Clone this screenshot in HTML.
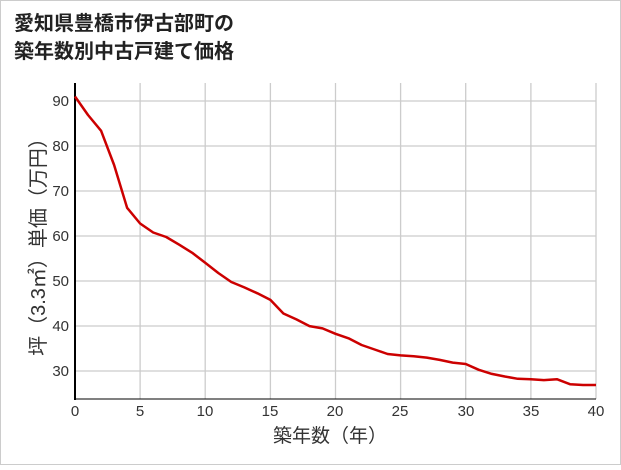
<!DOCTYPE html>
<html><head><meta charset="utf-8"><style>
body{margin:0;background:#fff;}
.f{font-family:"Liberation Sans","Noto Sans CJK JP",sans-serif;}
</style></head><body>
<svg width="621" height="465" xmlns="http://www.w3.org/2000/svg" class="f">
<rect x="0.5" y="0.5" width="620" height="464" fill="#fff" stroke="#ccc"/>
<text x="14" y="30" font-size="20" font-weight="bold" fill="#222" font-family="Liberation Sans,Noto Sans CJK JP,sans-serif">愛知県豊橋市伊古部町の</text>
<text x="14" y="58" font-size="20" font-weight="bold" fill="#222" font-family="Liberation Sans,Noto Sans CJK JP,sans-serif">築年数別中古戸建て価格</text>
<g stroke="#ccc" stroke-width="1.3">
<line x1="140.1" y1="83" x2="140.1" y2="399"/><line x1="205.2" y1="83" x2="205.2" y2="399"/>
<line x1="270.4" y1="83" x2="270.4" y2="399"/><line x1="335.5" y1="83" x2="335.5" y2="399"/>
<line x1="400.6" y1="83" x2="400.6" y2="399"/><line x1="465.7" y1="83" x2="465.7" y2="399"/>
<line x1="530.9" y1="83" x2="530.9" y2="399"/><line x1="596" y1="83" x2="596" y2="399"/>
<line x1="75" y1="101" x2="596" y2="101"/><line x1="75" y1="146" x2="596" y2="146"/>
<line x1="75" y1="191" x2="596" y2="191"/><line x1="75" y1="236" x2="596" y2="236"/>
<line x1="75" y1="281" x2="596" y2="281"/><line x1="75" y1="326" x2="596" y2="326"/>
<line x1="75" y1="371" x2="596" y2="371"/>
</g>
<line x1="75" y1="83" x2="75" y2="400" stroke="#000" stroke-width="2"/>
<line x1="74" y1="399" x2="596" y2="399" stroke="#000" stroke-width="1"/>
<g font-size="15" fill="#333" text-anchor="end">
<text x="69" y="106">90</text><text x="69" y="151">80</text><text x="69" y="196">70</text>
<text x="69" y="241">60</text><text x="69" y="286">50</text><text x="69" y="331">40</text>
<text x="69" y="376">30</text>
</g>
<g font-size="15" fill="#333" text-anchor="middle">
<text x="75" y="416">0</text><text x="140" y="416">5</text><text x="205" y="416">10</text>
<text x="270" y="416">15</text><text x="335" y="416">20</text><text x="400" y="416">25</text>
<text x="466" y="416">30</text><text x="531" y="416">35</text><text x="596" y="416">40</text>
</g>
<text x="330" y="442" font-size="19" fill="#333" text-anchor="middle">築年数（年）</text>
<text transform="translate(45,242) rotate(-90)" font-size="20" fill="#333" text-anchor="middle">坪（3.3㎡）単価（万円）</text>
<polyline fill="none" stroke="#cc0000" stroke-width="2.5" stroke-linejoin="round" points="
75,96.5 88,115 101.1,130.8 114.1,165 127.1,207.8 140.1,223.5 153.2,232.5 166.2,237 179.2,244.7 192.2,252.8 205.2,262.7 218.3,273 231.3,282 244.3,287.4 257.4,293.3 270.4,299.9 283.4,313.5 296.4,319.4 309.5,326.1 322.5,328.4 335.5,333.8 348.5,338.3 361.6,345 374.6,349.5 387.6,354 400.6,355.4 413.7,356.3 426.7,357.6 439.7,359.9 452.7,362.6 465.7,364 478.8,369.8 491.8,373.9 504.8,376.5 517.8,378.8 530.9,379.2 543.9,380.1 556.9,379.2 570,384.2 583,385 596,385"/>
</svg>
</body></html>
